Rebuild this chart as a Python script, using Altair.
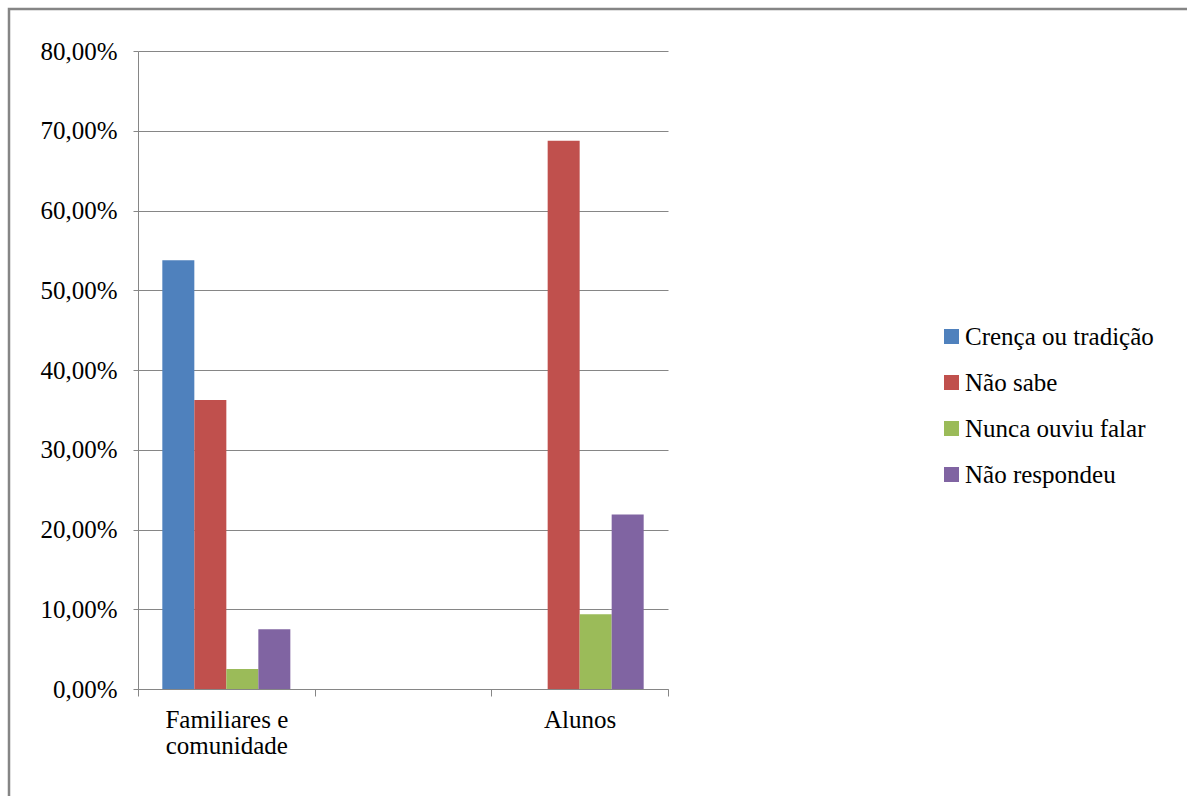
import altair as alt
import pandas as pd

grupos = ["Familiares e comunidade", "Alunos"]
eixo_x = ["Familiares e comunidade", " ", "Alunos"]
series = ["Crença ou tradição", "Não sabe", "Nunca ouviu falar", "Não respondeu"]
familiares = [0.5375, 0.3625, 0.025, 0.075]
alunos = [0.0, 0.6875, 0.09375, 0.21875]
cores = ["#4F81BD", "#C0504D", "#9BBB59", "#8064A2"]
y_ticks = [0, 0.1, 0.2, 0.3, 0.4, 0.5, 0.6, 0.7, 0.8]

rows = []
for s, v in zip(series, familiares):
    rows.append({"grupo": grupos[0], "serie": s, "valor": v})
for s, v in zip(series, alunos):
    rows.append({"grupo": grupos[1], "serie": s, "valor": v})
df = pd.DataFrame(rows)

FONT = "'Liberation Serif', 'Times New Roman', serif"
FS = 25
GRID = "#868686"

bars = alt.Chart(df).mark_bar().encode(
    x=alt.X(
        "grupo:N",
        scale=alt.Scale(domain=eixo_x, paddingInner=0, paddingOuter=0),
        axis=alt.Axis(
            title=None,
            labelAngle=0,
            tickBand="extent",
            tickSize=7,
            tickColor=GRID,
            domainColor=GRID,
            labelPadding=11,
            labelFont=FONT,
            labelFontSize=FS,
            labelColor="#000000",
            labelLineHeight=26,
            labelBaseline="top",
            labelExpr="datum.value == 'Familiares e comunidade' ? ['Familiares e', 'comunidade'] : datum.value",
        ),
    ),
    xOffset=alt.XOffset(
        "serie:N",
        sort=series,
        scale=alt.Scale(domain=series, paddingInner=0, paddingOuter=0.76),
    ),
    y=alt.Y(
        "valor:Q",
        scale=alt.Scale(domain=[0, 0.8], nice=False),
        axis=alt.Axis(
            title=None,
            values=y_ticks,
            labelExpr="replace(format(datum.value, '.2%'), '.', ',')",
            tickSize=5,
            tickColor=GRID,
            domainColor=GRID,
            gridColor=GRID,
            gridWidth=1,
            labelPadding=16,
            labelFont=FONT,
            labelFontSize=FS,
            labelColor="#000000",
        ),
    ),
    color=alt.Color(
        "serie:N",
        sort=series,
        scale=alt.Scale(domain=series, range=cores),
        legend=alt.Legend(
            title=None,
            orient="none",
            legendX=801,
            legendY=273,
            symbolType="square",
            symbolSize=225,
            symbolStrokeWidth=0,
            labelFont=FONT,
            labelFontSize=FS,
            labelColor="#000000",
            labelOffset=1,
            rowPadding=20,
            labelLimit=400,
        ),
    ),
)

border = alt.Chart(pd.DataFrame({"k": [0]})).mark_rect(
    fill=None, stroke="#858585", strokeWidth=2.5
).encode(
    x=alt.value(-129), x2=alt.value(1070), y=alt.value(-42), y2=alt.value(770)
)

chart = alt.layer(border, bars).properties(
    width=530,
    height=638,
    autosize=alt.AutoSizeParams(type="none"),
    padding={"left": 138, "top": 51, "right": 519, "bottom": 107},
    background="white",
).configure_view(stroke=None)

chart.save("out.html", embed_options={"renderer": "svg", "actions": False})
